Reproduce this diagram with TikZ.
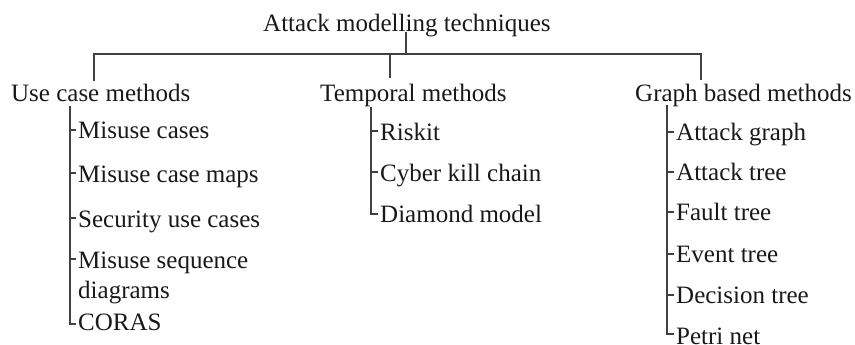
\documentclass[tikz,border=0pt]{standalone}
\usepackage{fontspec}
\setmainfont{Liberation Serif}
\usetikzlibrary{calc}
\begin{document}
\begin{tikzpicture}[x=1pt,y=-1pt,
  lbl/.style={anchor=base west,inner sep=0pt,font=\fontsize{25}{30}\selectfont,text=black!90},
  conn/.style={draw=black!75,line width=1.3pt}]
\useasboundingbox (0,0) rectangle (855,345);
% root and categories
\node[lbl] (root) at (263,32) {Attack modelling techniques};
\node[lbl] (uc) at (11,102) {Use case methods};
\node[lbl] (tm) at (320,102) {Temporal methods};
\node[lbl] (gb) at (635,102) {Graph based methods};
% junctions
\coordinate (bar) at (406,54);
\coordinate (ucT) at (94,81);
\coordinate (tmT) at (390,78);
\coordinate (gbT) at (701,80);
\draw[conn] (root.base -| bar) -- (bar);
\draw[conn] (ucT) |- (bar) -| (gbT);
\draw[conn] (tmT) -- (tmT |- bar);
% use case leaves
\node[lbl] (u1) at (78,139) {Misuse cases};
\node[lbl] (u2) at (78,182) {Misuse case maps};
\node[lbl] (u3) at (78,227) {Security use cases};
\node[lbl,align=left] (u4) at (78,298) {Misuse sequence\\diagrams};
\node[lbl] (u5) at (78,330) {CORAS};
\coordinate (uS) at (70,106);
% temporal leaves
\node[lbl] (t1) at (380,140) {Riskit};
\node[lbl] (t2) at (380,181) {Cyber kill chain};
\node[lbl] (t3) at (380,222) {Diamond model};
\coordinate (tS) at (371,107);
% graph leaves
\node[lbl] (g1) at (676,140) {Attack graph};
\node[lbl] (g2) at (676,180) {Attack tree};
\node[lbl] (g3) at (676,220) {Fault tree};
\node[lbl] (g4) at (676,262) {Event tree};
\node[lbl] (g5) at (676,303) {Decision tree};
\node[lbl] (g6) at (676,344) {Petri net};
\coordinate (gS) at (667,105);
% tick points
\foreach \n in {u1,u2,u3} {\coordinate (\n k) at ($(\n.base west)+(-2,-9)$);}
\coordinate (u4k) at ($(u4.base west)+(-2,-30-9)$);
\coordinate (u5k) at ($(u5.base west)+(-2,-6)$);
\foreach \n in {t1,t2} {\coordinate (\n k) at ($(\n.base west)+(-2,-9)$);}
\coordinate (t3k) at ($(t3.base west)+(-2,-8)$);
\foreach \n in {g1,g2,g3,g4,g5} {\coordinate (\n k) at ($(\n.base west)+(-2,-8)$);}
\coordinate (g6k) at ($(g6.base west)+(-2,-10)$);
% spines and ticks
\foreach \n in {u1,u2,u3,u4} {\draw[conn] (uS |- \n k) -- (\n k);}
\draw[conn] (uS) |- (u5k);
\foreach \n in {t1,t2} {\draw[conn] (tS |- \n k) -- (\n k);}
\draw[conn] (tS) |- (t3k);
\foreach \n in {g1,g2,g3,g4,g5} {\draw[conn] (gS |- \n k) -- (\n k);}
\draw[conn] (gS) |- (g6k);
\end{tikzpicture}
\end{document}
